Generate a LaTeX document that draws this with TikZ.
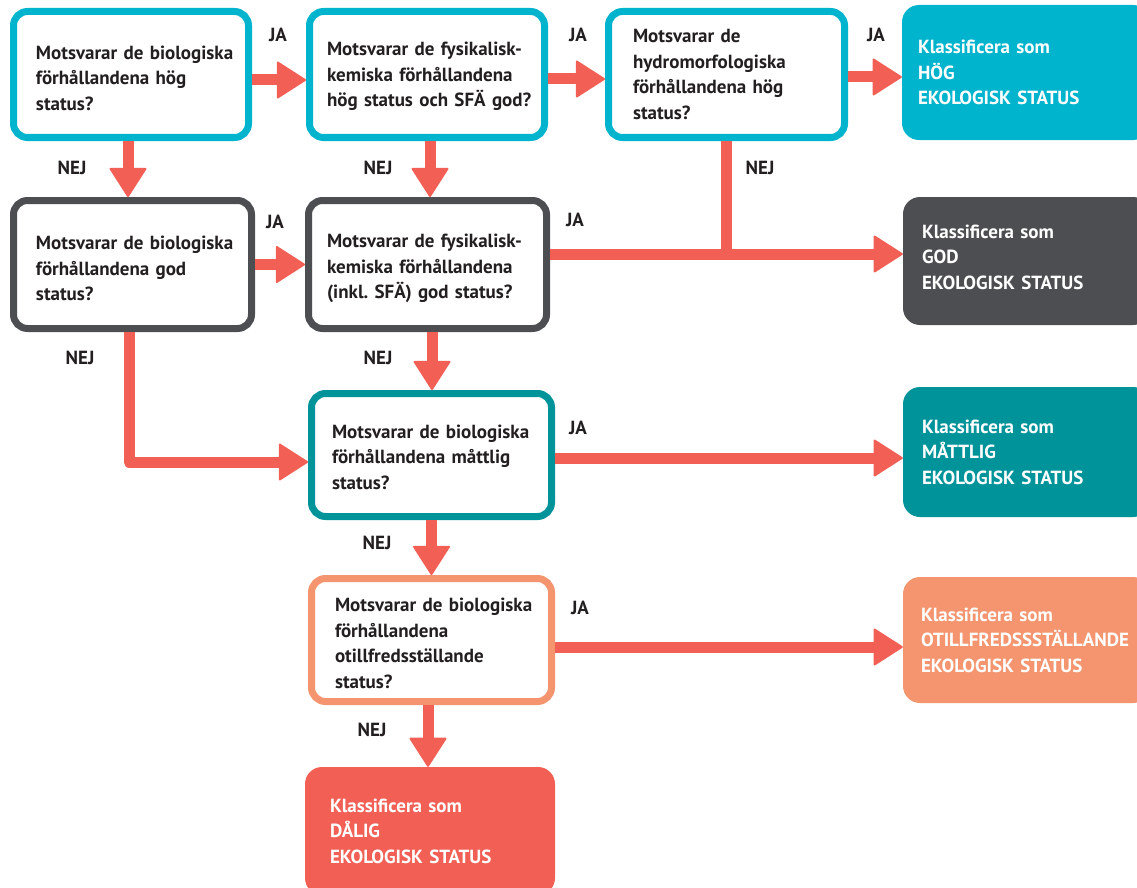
\documentclass[tikz,border=0pt]{standalone}
\usepackage{fontspec}
\setmainfont{PT Sans}
\usetikzlibrary{arrows.meta}
\definecolor{cy}{HTML}{00B4CD}
\definecolor{dk}{HTML}{4C4E52}
\definecolor{tl}{HTML}{00949A}
\definecolor{sm}{HTML}{F4956F}
\definecolor{rd}{HTML}{F15F55}
\definecolor{ink}{HTML}{231F20}
\begin{document}
\begin{tikzpicture}[x=1pt,y=-1pt,
  txt/.style={font=\bfseries\fontsize{19}{25.5}\selectfont},
  qbox/.style={txt, draw=#1, line width=7pt, fill=white, rounded corners=14pt,
    inner xsep=6pt, inner ysep=0pt, align=left, text=ink},
  rbox/.style={txt, fill=#1, draw=none, rounded corners=17pt,
    inner xsep=6pt, inner ysep=0pt, align=left, text=white},
  tw/.style={text width=#1-12pt},
  th/.style={text height=#1},
  ls/.style={execute at begin node={\leftskip=#1\relax}},
  lab/.style={txt, text=ink, inner sep=0pt},
  ln/.style={draw=rd, line width=11pt, line join=round},
  arr/.style={ln, -{Triangle[length=30pt,width=38pt,line width=2pt,round]}}
]
\useasboundingbox (0,0) rectangle (1137,888);
\clip (0,0) rectangle (1137,888);

% question boxes
\node[qbox=cy, tw=235pt, minimum height=126pt, ls=16.5pt, th=21pt] (B1) at (131,74.5)
  {Motsvarar de biologiska\\förhållandena hög\\status?};
\node[qbox=cy, tw=235pt, minimum height=126pt, ls=11.5pt, th=18pt] (B2) at (427,74.5)
  {Motsvarar de fysikalisk-\\kemiska förhållandena\\hög status och SFÄ god?};
\node[qbox=cy, tw=236pt, minimum height=126pt, ls=18.5pt] (B3) at (726.5,74.5)
  {Motsvarar de\\hydromorfologiska\\förhållandena hög\\status?};
\node[qbox=dk, tw=238pt, minimum height=128pt, ls=16.5pt, th=22pt] (B4) at (132.5,264.5)
  {Motsvarar de biologiska\\förhållandena god\\status?};
\node[qbox=dk, tw=238pt, minimum height=128pt, ls=12.5pt, th=22pt] (B5) at (427.5,264.5)
  {Motsvarar de fysikalisk-\\kemiska förhållandena\\(inkl.\ SFÄ) god status?};
\node[qbox=tl, tw=240pt, minimum height=123pt, ls=14.5pt, th=18pt] (B6) at (431.5,455)
  {Motsvarar de biologiska\\förhållandena måttlig\\status?};
\node[qbox=sm, tw=240pt, minimum height=123pt, ls=17.5pt, th=20pt] (B7) at (431.5,640)
  {Motsvarar de biologiska\\förhållandena\\otillfredsställande\\status?};

% result boxes
\node[rbox=cy, tw=248pt, minimum height=135pt, ls=10pt] (R1) at (1026,72.5)
  {Klassificera som\\HÖG\\EKOLOGISK STATUS};
\node[rbox=dk, tw=247pt, minimum height=128pt, ls=13pt, th=6pt] (R2) at (1026.5,261)
  {Klassificera som\\GOD\\EKOLOGISK STATUS};
\node[rbox=tl, tw=247pt, minimum height=130pt, ls=13pt] (R3) at (1026.5,452)
  {Klassificera som\\MÅTTLIG\\EKOLOGISK STATUS};
\node[rbox=sm, tw=247pt, minimum height=126pt, ls=12pt] (R4) at (1026.5,640)
  {Klassificera som\\OTILLFREDSSSTÄLLANDE\\EKOLOGISK STATUS};
\node[rbox=rd, tw=250pt, minimum height=128pt, ls=19pt] (R5) at (430,831)
  {Klassificera som\\DÅLIG\\EKOLOGISK STATUS};

% connectors
\draw[arr] ([yshift=-5.5pt]B1.east) -- ([yshift=-5.5pt]B2.west);
\draw[arr] ([yshift=-4.5pt]B2.east) -- ([yshift=-4.5pt]B3.west);
\draw[arr] ([yshift=-2.5pt]B3.east) -- ([yshift=-2.5pt]B3.east -| R1.west);
\draw[arr] ([xshift=-3pt]B1.south) -- ([xshift=-3pt]B1.south |- B4.north);
\draw[arr] ([xshift=3pt]B2.south) -- ([xshift=3pt]B2.south |- B5.north);
\coordinate (J) at ([yshift=10.5pt]B5.east -| B3.south);
\draw[ln] (B3.south) -- (J);
\draw[arr] ([yshift=10.5pt]B5.east) -- ([yshift=10.5pt]B5.east -| R2.west);
\draw[arr] (B4.east) -- (B5.west);
\draw[arr] ([xshift=-3.5pt]B4.south) |- ([yshift=-7pt]B6.west);
\draw[arr] ([xshift=4.5pt]B5.south) -- ([xshift=4.5pt]B5.south |- B6.north);
\draw[arr] ([yshift=-3pt]B6.east) -- ([yshift=-3pt]B6.east -| R3.west);
\draw[arr] (B6.south) -- (B7.north);
\draw[arr] ([yshift=-7pt]B7.east) -- ([yshift=-7pt]B7.east -| R4.west);
\draw[arr] ([xshift=-3.5pt]B7.south) -- ([xshift=-3.5pt]B7.south |- R5.north);

% labels
\node[lab] (ja1) at (278,35) {JA};
\node[lab] (ja2) at (578,35) {JA};
\node[lab] (ja3) at (876,35) {JA};
\node[lab] (ja4) at (275,222) {JA};
\node[lab] (ja5) at (575,220) {JA};
\node[lab] (ja6) at (578,428) {JA};
\node[lab] (ja7) at (580,608) {JA};
\node[lab] (nej1) at (72,168) {NEJ};
\node[lab] (nej2) at (378,168) {NEJ};
\node[lab] (nej3) at (760,168) {NEJ};
\node[lab] (nej4) at (80,358) {NEJ};
\node[lab] (nej5) at (378,358) {NEJ};
\node[lab] (nej6) at (377,543) {NEJ};
\node[lab] (nej7) at (372,730) {NEJ};
\end{tikzpicture}
\end{document}
